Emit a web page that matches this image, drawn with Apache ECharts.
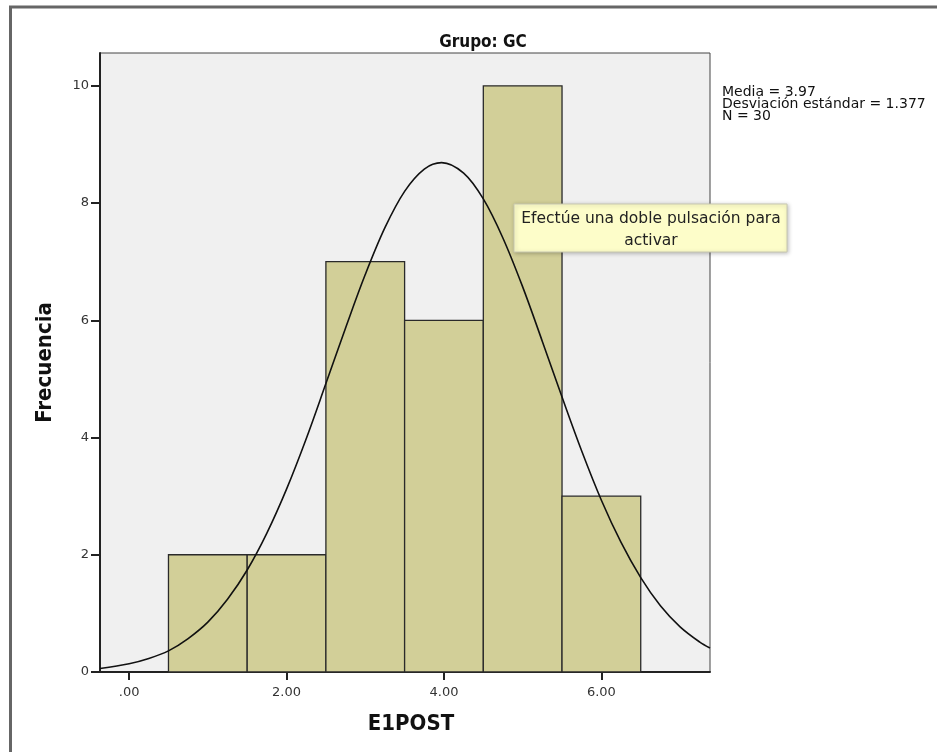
<!DOCTYPE html>
<html>
<head>
<meta charset="utf-8">
<script src="https://cdn.jsdelivr.net/npm/echarts@6/dist/echarts.min.js"></script>
<style>
html, body { margin: 0; padding: 0; background: #fff; }
#chart { width: 937px; height: 752px; }
</style>
</head>
<body>
<div id="chart"></div>
<script>
// histogram bins (E1POST)
var binStart = [0.5, 1.5, 2.5, 3.5, 4.5, 5.5];
var binEnd = [1.5, 2.5, 3.5, 4.5, 5.5, 6.5];
var counts = [2, 2, 7, 6, 10, 3];

// normal curve
var curveX = [-0.37, 0, 0.25, 0.5, 0.75, 1, 1.25, 1.5, 1.75, 2, 2.25, 2.5, 2.75, 3, 3.25, 3.5, 3.75, 3.97,
	4.25, 4.5, 4.75, 5, 5.25, 5.5, 5.75, 6, 6.25, 6.5, 6.75, 7, 7.25, 7.38];
var curveY = [0.06, 0.14, 0.23, 0.36, 0.57, 0.85, 1.24, 1.74, 2.37, 3.12, 3.98, 4.92, 5.87, 6.78, 7.58, 8.2, 8.58, 8.69,
	8.51, 8.07, 7.4, 6.57, 5.64, 4.69, 3.77, 2.93, 2.21, 1.61, 1.13, 0.77, 0.51, 0.41];

var xTicks = [0, 2, 4, 6];
var yTicks = [0, 2, 4, 6, 8, 10];
var statLines = ['Media = 3.97', 'Desviación estándar = 1.377', 'N = 30'];

var condensed = '"DejaVu Sans Condensed", "Liberation Sans Narrow", "DejaVu Sans", sans-serif';

var curveData = [];
for (var i = 0; i < curveX.length; i++) {
	curveData.push([curveX[i], curveY[i]]);
}
var barData = [];
for (var i = 0; i < counts.length; i++) {
	barData.push([binStart[i], binEnd[i], counts[i]]);
}

var myChart = echarts.init(document.getElementById('chart'));
var option = {
	backgroundColor: '#fff',
	animation: false,
	title: {
		text: 'Grupo: GC',
		left: 478,
		textAlign: 'center',
		top: 29,
		textStyle: { fontFamily: condensed, fontSize: 17, fontWeight: 'bold', color: '#111' }
	},
	grid: {
		left: 100, right: 227, top: 53, bottom: 80,
		show: true,
		backgroundColor: '#f0f0f0',
		borderColor: '#444',
		borderWidth: 1
	},
	xAxis: {
		type: 'value',
		min: -0.37,
		max: 7.38,
		name: 'E1POST',
		nameLocation: 'middle',
		nameGap: 41,
		nameTextStyle: { fontFamily: condensed, fontSize: 22, fontWeight: 'bold', color: '#111', padding: [0, 0, 0, 12] },
		axisLine: { show: true, onZero: false, lineStyle: { color: '#222', width: 2 } },
		axisTick: { show: true, length: 8, lineStyle: { color: '#222', width: 2 },
			customValues: xTicks },
		axisLabel: { color: '#333', fontFamily: '"DejaVu Sans", sans-serif', fontSize: 13, margin: 14,
			customValues: xTicks,
			formatter: function (v) { return v === 0 ? '.00' : v.toFixed(2); } },
		splitLine: { show: false }
	},
	yAxis: {
		type: 'value',
		min: 0,
		max: 10.56,
		name: 'Frecuencia',
		nameLocation: 'middle',
		nameGap: 44,
		nameTextStyle: { fontFamily: condensed, fontSize: 22, fontWeight: 'bold', color: '#111' },
		axisLine: { show: true, onZero: false, lineStyle: { color: '#222', width: 2 } },
		axisTick: { show: true, length: 9, lineStyle: { color: '#222', width: 2 },
			customValues: yTicks },
		axisLabel: { color: '#333', fontFamily: '"DejaVu Sans", sans-serif', fontSize: 13, margin: 11,
			customValues: yTicks },
		splitLine: { show: false }
	},
	graphic: [
		// outer frame
		{ type: 'line', shape: { x1: 10.5, y1: 7, x2: 10.5, y2: 752 }, style: { stroke: '#666', lineWidth: 3 } },
		{ type: 'line', shape: { x1: 9, y1: 7, x2: 937, y2: 7 }, style: { stroke: '#666', lineWidth: 3 } },
		{
			type: 'text', left: 722, top: 85,
			style: { text: statLines.join('\n'), font: '14px "DejaVu Sans", sans-serif', fill: '#111', lineHeight: 12 }
		},
		{
			type: 'rect', shape: { x: 514, y: 204, width: 273, height: 48 },
			style: { fill: '#fdfdc9', stroke: '#c8c8b0', lineWidth: 1,
				shadowBlur: 4, shadowColor: 'rgba(0,0,0,0.25)', shadowOffsetX: 1, shadowOffsetY: 1 },
			z: 100
		},
		{
			type: 'text', x: 651, y: 229.5,
			style: { text: 'Efectúe una doble pulsación para\nactivar', font: '15.5px "DejaVu Sans", sans-serif',
				fill: '#222', align: 'center', verticalAlign: 'middle', lineHeight: 22 },
			z: 101
		}
	],
	series: [
		{
			type: 'custom',
			data: barData,
			renderItem: function (params, api) {
				var p0 = api.coord([api.value(0), api.value(2)]);
				var p1 = api.coord([api.value(1), 0]);
				return {
					type: 'rect',
					shape: { x: p0[0], y: p0[1], width: p1[0] - p0[0], height: p1[1] - p0[1] },
					style: { fill: '#d2cf98', stroke: '#2a2a2a', lineWidth: 1.3 }
				};
			},
			z: 2
		},
		{
			type: 'line',
			data: curveData,
			smooth: 0.35,
			showSymbol: false,
			lineStyle: { color: '#111', width: 1.6 },
			z: 3
		}
	]
};
myChart.setOption(option);
</script>
</body>
</html>
